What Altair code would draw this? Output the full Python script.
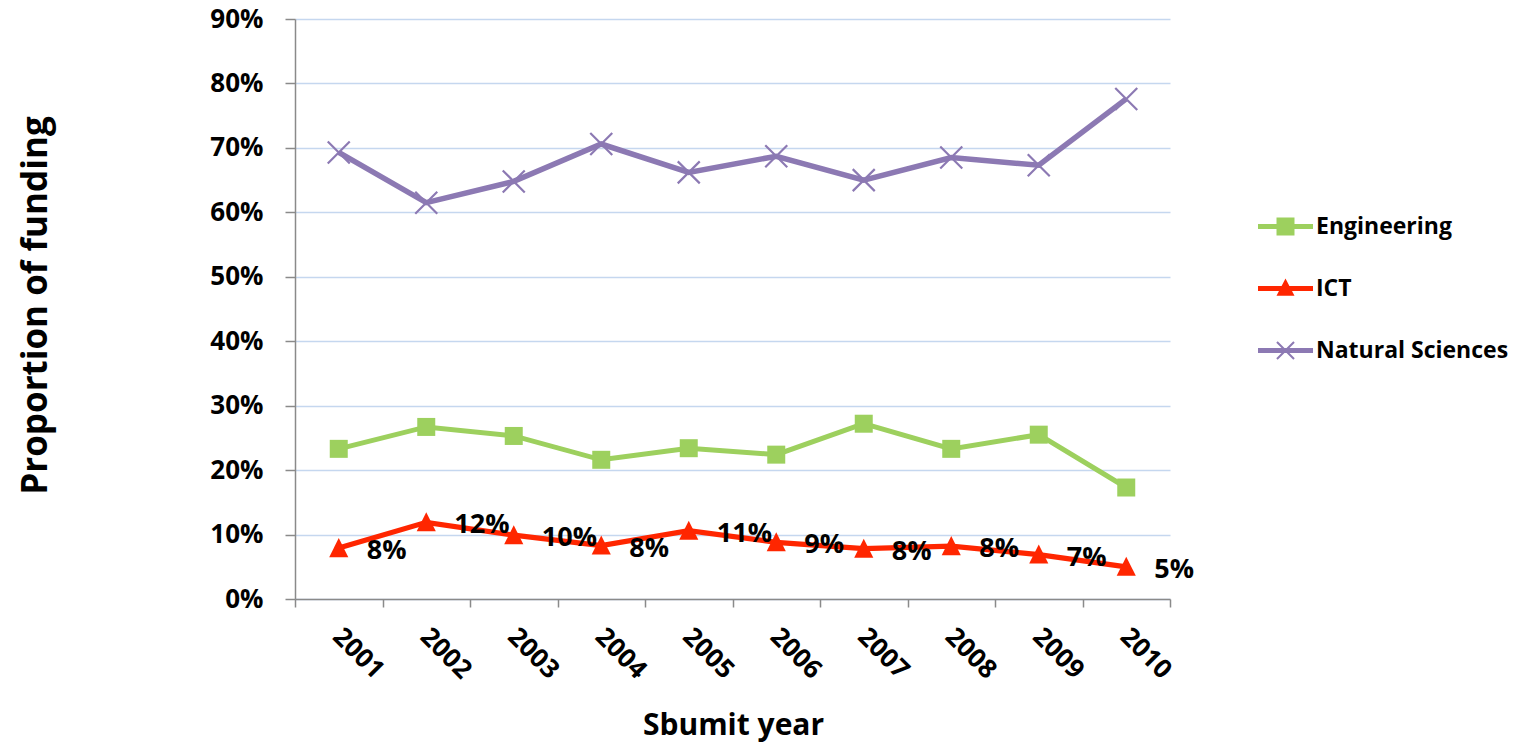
import altair as alt
import pandas as pd

# Share of funding per submission year, by research area
years = ["2001", "2002", "2003", "2004", "2005", "2006", "2007", "2008", "2009", "2010"]
series_names = ["Engineering", "ICT", "Natural Sciences"]
engineering = [0.233, 0.267, 0.253, 0.216, 0.234, 0.224, 0.272, 0.233, 0.255, 0.173]
ict = [0.079, 0.119, 0.099, 0.083, 0.106, 0.088, 0.078, 0.082, 0.069, 0.050]
natural_sciences = [0.693, 0.615, 0.648, 0.706, 0.662, 0.687, 0.650, 0.685, 0.673, 0.776]
y_ticks = [0.0, 0.1, 0.2, 0.3, 0.4, 0.5, 0.6, 0.7, 0.8, 0.9]

colors = ["#9dd05e", "#ff2600", "#8c79b3"]
font = "Open Sans"

rows = []
for name, vals in zip(series_names, [engineering, ict, natural_sciences]):
    for yr, v in zip(years, vals):
        rows.append({"year": yr, "series": name, "value": v})
df = pd.DataFrame(rows)

# Marker shapes: square, triangle, thin filled "X"
triangle = "M0,-1L0.95,0.9L-0.95,0.9Z"
x_marker = ("M-0.93,-1.07L1.07,0.93L0.93,1.07L-1.07,-0.93Z "
            "M-1.07,0.93L0.93,-1.07L1.07,-0.93L-0.93,1.07Z")
point_shapes = ["square", triangle, x_marker]
point_sizes = [324, 484, 380]
line_widths = [5, 5.5, 5]

# Legend symbols: a line segment with the series marker on it
seg = "M-1,-0.09H1V0.09H-1Z"
legend_paths = [
    seg + " M-0.327,-0.327H0.327V0.327H-0.327Z",
    seg + " M0,-0.36L0.327,0.26L-0.327,0.26Z",
    seg + " M-0.284,-0.336L0.336,0.284L0.284,0.336L-0.336,-0.284Z"
          " M-0.336,0.284L0.284,-0.336L0.336,-0.284L-0.284,0.336Z",
]

x_enc = alt.X(
    "year:O",
    sort=years,
    bandPosition=0.5,
    scale=alt.Scale(type="band", paddingInner=0, paddingOuter=0),
    axis=alt.Axis(
        title="Sbumit year",
        titleFont=font, titleFontSize=30, titleFontWeight="bold", titleColor="#000000",
        titleX=438, titleY=126, titleAlign="center", titleBaseline="middle",
        labelFont=font, labelFontSize=26, labelFontWeight="bold", labelColor="#000000",
        labelAngle=45, labelAlign="left", labelBaseline="middle",
        labelPadding=25, labelOffset=-2, labelOverlap=False, labelBound=False, labelFlush=False,
        tickBand="extent", tickSize=8, tickColor="#8a8a8a", tickWidth=1.5,
        domainColor="#8a8a8a", domainWidth=1.5, grid=False,
    ),
)

y_enc = alt.Y(
    "value:Q",
    scale=alt.Scale(domain=[0, 0.9], nice=False, zero=True),
    axis=alt.Axis(
        title="Proportion of funding",
        titleFont=font, titleFontSize=35, titleFontWeight="bold", titleColor="#000000",
        titleAngle=270, titleX=-260, titleY=286, titleAlign="center", titleBaseline="middle",
        values=y_ticks, format=".0%",
        labelFont=font, labelFontSize=26, labelFontWeight="bold", labelColor="#000000",
        labelPadding=22,
        tickSize=10, tickColor="#8a8a8a", tickWidth=1.5,
        domainColor="#8a8a8a", domainWidth=1.5,
        grid=True, gridColor="#c5d7ef", gridWidth=1.5,
    ),
)

color_scale = alt.Scale(domain=series_names, range=colors)

base = alt.Chart(df).encode(x=x_enc, y=y_enc)

lines = base.mark_line().encode(
    color=alt.Color("series:N", scale=color_scale, legend=None),
    strokeWidth=alt.StrokeWidth("series:N", scale=alt.Scale(domain=series_names, range=line_widths), legend=None),
    detail="series:N",
)

points = base.mark_point(filled=True, opacity=1).encode(
    color=alt.Color("series:N", scale=color_scale, legend=None),
    shape=alt.Shape("series:N", scale=alt.Scale(domain=series_names, range=point_shapes), legend=None),
    size=alt.Size("series:N", scale=alt.Scale(domain=series_names, range=point_sizes), legend=None),
)

labels = base.transform_filter(alt.datum.series == "ICT").mark_text(
    align="left", baseline="middle", dx=28, dy=3,
    font=font, fontSize=27, fontWeight="bold", color="#000000",
).encode(text=alt.Text("value:Q", format=".0%"))

legend_spec = dict(
    title=None, orient="none", legendX=963, legendY=180,
    symbolSize=3025, symbolStrokeWidth=0, padding=0, rowPadding=22,
    labelFont=font, labelFontSize=23, labelFontWeight="bold", labelColor="#000000",
    labelOffset=3, labelLimit=400,
)

# Legend-only layer: no marks drawn, the legend comes from its scales
legend_layer = alt.Chart(df).transform_filter(alt.datum.value < 0).mark_point(
    filled=True, opacity=1
).encode(
    x=x_enc, y=y_enc,
    shape=alt.Shape("series:N", scale=alt.Scale(domain=series_names, range=legend_paths),
                    legend=alt.Legend(**legend_spec)),
    color=alt.Color("series:N", scale=alt.Scale(domain=series_names, range=colors),
                    legend=alt.Legend(**legend_spec)),
)

chart = (
    alt.layer(lines, points, labels, legend_layer)
    .resolve_scale(shape="independent", color="independent")
    .properties(
        width=875, height=580,
        autosize=alt.AutoSizeParams(type="none"),
        padding={"left": 295, "top": 19, "right": 348, "bottom": 145},
        background="#ffffff",
    )
    .configure_view(stroke=None)
)

chart.save("out.html", embed_options={"renderer": "svg", "actions": False})
